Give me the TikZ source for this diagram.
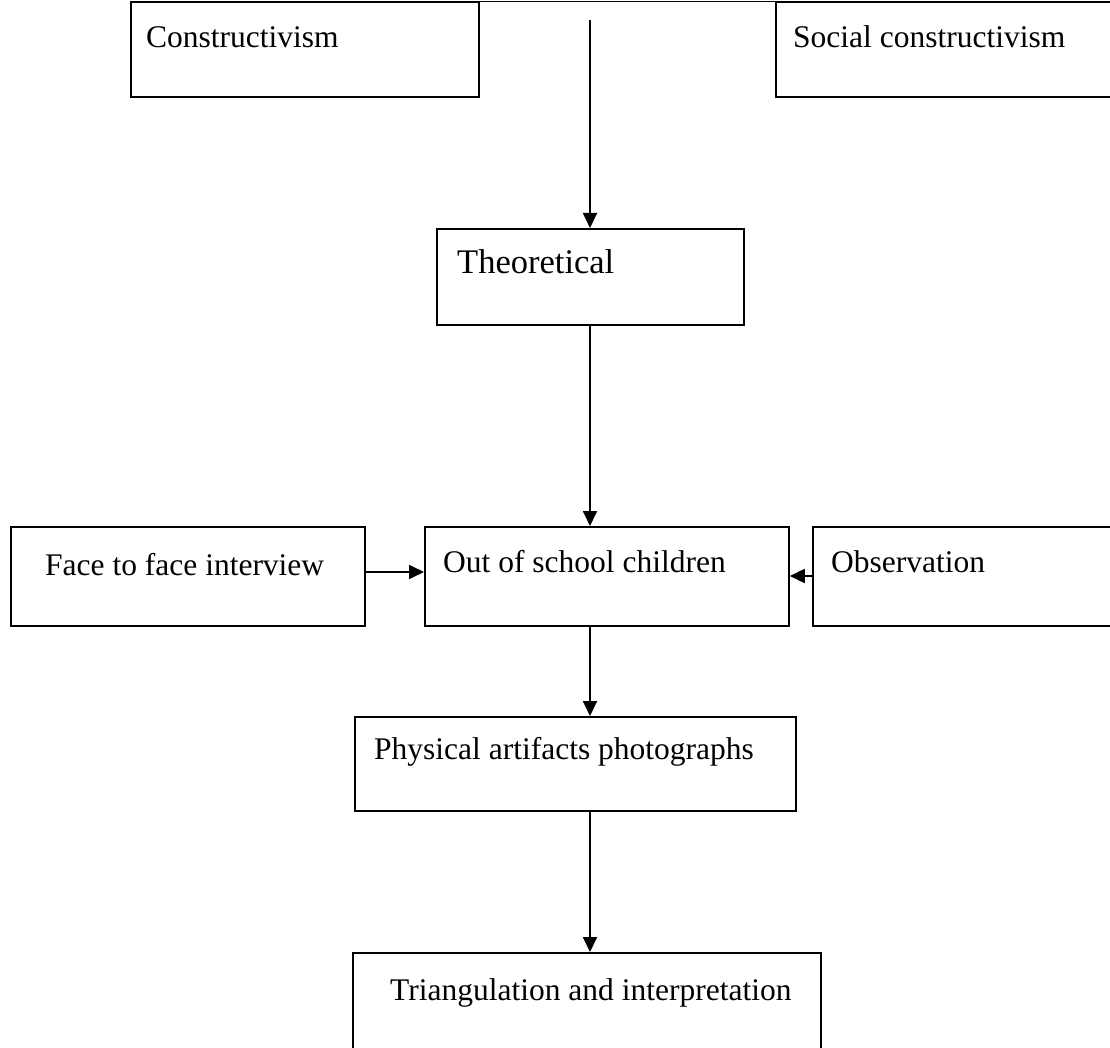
\documentclass[tikz,border=0pt]{standalone}
\usepackage{fontspec}
\setmainfont{Liberation Serif}
\usetikzlibrary{arrows.meta}
\begin{document}
\begin{tikzpicture}[x=1pt,y=-1pt,
  box/.style={draw, line width=1.8pt, rectangle, inner sep=0pt, anchor=north west},
  lbl/.style={anchor=west, inner sep=0pt, font=\fontsize{31.5}{34}\selectfont},
  conn/.style={line width=1.8pt, -{Triangle[width=14pt,length=15pt]}}]
\useasboundingbox (0,0) rectangle (1110,1048);
% boxes
\node[box, minimum width=348pt, minimum height=95pt] (cons) at (130,1.5) {};
\node[box, minimum width=345pt, minimum height=95pt] (soc) at (775,1.5) {};
\node[box, minimum width=307pt, minimum height=96pt] (theo) at (436,228) {};
\node[box, minimum width=354pt, minimum height=99pt] (face) at (10,526) {};
\node[box, minimum width=364pt, minimum height=99pt] (out) at (424,526) {};
\node[box, minimum width=310pt, minimum height=99pt] (obs) at (812,526) {};
\node[box, minimum width=441pt, minimum height=94pt] (phys) at (354,716) {};
\node[box, minimum width=468pt, minimum height=105pt] (tri) at (352,952) {};
% texts
\node[lbl] (tcons) at (146,37) {Constructivism};
\node[lbl] (tsoc) at (793,37) {Social constructivism};
\node[lbl, font=\fontsize{34.5}{37}\selectfont] (ttheo) at (457,262) {Theoretical};
\node[lbl] (tface) at (45,565) {Face to face interview};
\node[lbl] (tout) at (443,562) {Out of school children};
\node[lbl] (tobs) at (831,562) {Observation};
\node[lbl] (tphys) at (374,752) {Physical artifacts photographs};
\node[lbl] (ttri) at (390,993) {Triangulation and interpretation};
% top line
\draw[line width=1.8pt] (cons.north east) -- (soc.north west);
\coordinate (topstart) at (590,20);
% connectors
\draw[conn] (topstart) -- (theo.north -| topstart);
\draw[conn] (theo.south -| topstart) -- (out.north -| topstart);
\draw[conn] (face.east |- 0,572) -- (out.west |- 0,572);
\draw[conn] (obs.west |- 0,576) -- (out.east |- 0,576);
\draw[conn] (out.south -| topstart) -- (phys.north -| topstart);
\draw[conn] (phys.south -| topstart) -- (tri.north -| topstart);
\end{tikzpicture}
\end{document}
